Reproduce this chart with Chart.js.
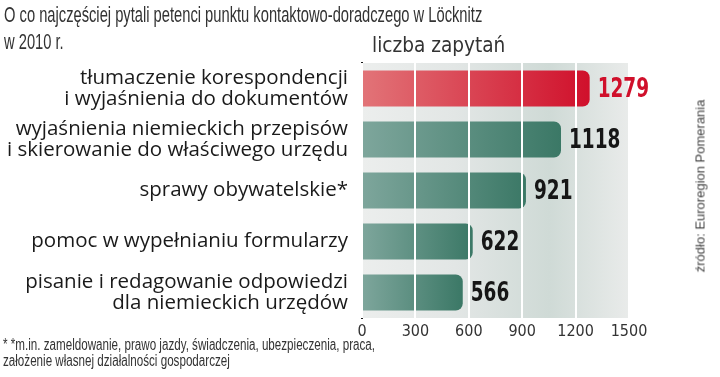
<!DOCTYPE html>
<html>
<head>
<meta charset="utf-8">
<script src="https://cdn.jsdelivr.net/npm/chart.js@4"></script>
<style>
  html, body { margin: 0; padding: 0; background: #fff; }
  #wrap { position: relative; width: 720px; height: 377px; overflow: hidden; }
  canvas { position: absolute; left: 0; top: 0; }
  .fit { position: absolute; white-space: nowrap; transform-origin: 0 0; }
  .title { left: 4px; top: 1px; font: 22px 'Liberation Sans', Arial, sans-serif; color: #333; line-height: 27px; }
  .note { left: 3px; top: 337px; font: 16px 'Liberation Sans', Arial, sans-serif; color: #333; line-height: 16px; }
  .source { position: absolute; left: 700px; top: 186px; transform: translate(-50%, -50%) rotate(-90deg); white-space: nowrap; font: 13px 'Liberation Sans', Arial, sans-serif; color: #444; }
</style>
</head>
<body>
<div id="wrap">
  <canvas id="chart" width="720" height="377"></canvas>
  <div class="fit title" data-w="478">O co najczęściej pytali petenci punktu kontaktowo-doradczego w Löcknitz<br>w 2010 r.</div>
  <div class="fit note" data-w="372">* *m.in. zameldowanie, prawo jazdy, świadczenia, ubezpieczenia, praca,<br>założenie własnej działalności gospodarczej</div>
  <div class="source">źródło: Euroregion Pomerania</div>
</div>
<script>
// categories, values and axis ticks
const categories = [
  ['tłumaczenie korespondencji', 'i wyjaśnienia do dokumentów'],
  ['wyjaśnienia niemieckich przepisów', 'i skierowanie do właściwego urzędu'],
  'sprawy obywatelskie*',
  'pomoc w wypełnianiu formularzy',
  ['pisanie i redagowanie odpowiedzi', 'dla niemieckich urzędów'],
];
const counts = [1279, 1118, 921, 622, 566];
const xTicks = [0, 300, 600, 900, 1200, 1500];
const axisTitle = 'liczba zapytań';

const NARROW = "'DejaVu Sans Condensed', 'Liberation Sans', sans-serif";
const RED = '#d0102b';

// the original uses a condensed face; squeeze the HTML text blocks to its width
document.querySelectorAll('.fit').forEach((el) => {
  const k = Number(el.dataset.w) / el.scrollWidth;
  el.style.transform = `scaleX(${k})`;
});

// gray plot background with a soft shadow band
const plotBackground = {
  id: 'plotBackground',
  beforeDraw(chart) {
    const { ctx, chartArea: a } = chart;
    const g = ctx.createLinearGradient(a.left, 0, a.right, 0);
    g.addColorStop(0, '#eceeed');
    g.addColorStop(0.35, '#e2e6e5');
    g.addColorStop(0.7, '#cfdad6');
    g.addColorStop(1, '#e9ebea');
    ctx.save();
    ctx.fillStyle = g;
    ctx.fillRect(a.left, a.top, a.right - a.left, a.bottom - a.top);
    ctx.restore();
  },
};

// value labels at bar ends + the axis caption above the plot
const barLabels = {
  id: 'barLabels',
  afterDraw(chart) {
    const { ctx, chartArea: a } = chart;
    const meta = chart.getDatasetMeta(0);
    ctx.save();
    ctx.font = `bold 27px ${NARROW}`;
    ctx.textBaseline = 'middle';
    meta.data.forEach((bar, i) => {
      ctx.save();
      ctx.translate(bar.x + 8, bar.y + 1);
      ctx.scale(0.76, 1);
      ctx.fillStyle = i === 0 ? RED : '#161616';
      ctx.fillText(String(counts[i]), 0, 0);
      ctx.restore();
    });
    ctx.translate(a.left + 10, a.top - 11);
    ctx.scale(0.98, 1);
    ctx.font = `21px ${NARROW}`;
    ctx.fillStyle = '#333';
    ctx.textBaseline = 'alphabetic';
    ctx.fillText(axisTitle, 0, 0);
    ctx.restore();
  },
};

function barFill(context) {
  const chart = context.chart;
  const a = chart.chartArea;
  if (!a) return '#4d8574';
  const i = context.dataIndex;
  const end = chart.scales.x.getPixelForValue(counts[i]);
  const g = chart.ctx.createLinearGradient(a.left, 0, end, 0);
  if (i === 0) {
    g.addColorStop(0, '#e27478');
    g.addColorStop(1, '#d0102b');
  } else {
    g.addColorStop(0, '#7ea69c');
    g.addColorStop(1, '#3b7866');
  }
  return g;
}

new Chart(document.getElementById('chart'), {
  type: 'bar',
  data: {
    labels: categories,
    datasets: [{
      data: counts,
      backgroundColor: barFill,
      borderRadius: 7,
      borderSkipped: 'start',
      barPercentage: 0.71,
      categoryPercentage: 1,
    }],
  },
  options: {
    indexAxis: 'y',
    responsive: false,
    animation: false,
    layout: { padding: { top: 63, right: 91, bottom: 36, left: 0 } },
    plugins: {
      legend: { display: false },
      tooltip: { enabled: false },
    },
    scales: {
      x: {
        min: 0,
        max: 1500,
        afterBuildTicks: (scale) => { scale.ticks = xTicks.map((v) => ({ value: v })); },
        afterFit: (scale) => { scale.height = 23; },
        grid: { color: '#ffffff', lineWidth: 2, drawTicks: false, z: 1 },
        border: { display: false },
        ticks: {
          color: '#333',
          padding: 4,
          font: { family: NARROW, size: 16 },
          callback: (v) => String(v),
        },
      },
      y: {
        afterFit: (scale) => { scale.width = 362; },
        grid: { display: false },
        border: { color: '#1a1a1a', width: 2 },
        ticks: {
          color: '#1a1a1a',
          padding: 6,
          font: { family: "'Open Sans', sans-serif", size: 20.5, lineHeight: 1.03 },
        },
      },
    },
  },
  plugins: [plotBackground, barLabels],
});
</script>
</body>
</html>
